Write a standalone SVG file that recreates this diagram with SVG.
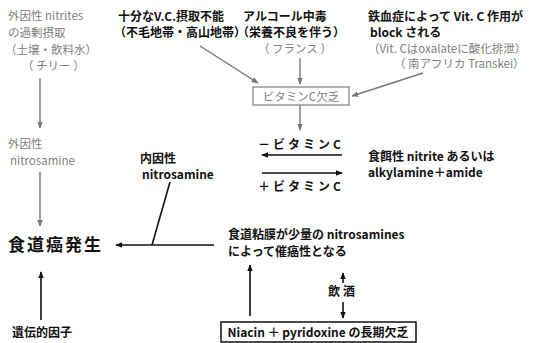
<svg xmlns="http://www.w3.org/2000/svg" width="542" height="343" viewBox="0 0 542 343">
<defs>
<marker id="ab" viewBox="0 0 10 10" refX="9" refY="5" markerWidth="7" markerHeight="7" markerUnits="userSpaceOnUse" orient="auto"><path d="M0,1 L10,5 L0,9 z" fill="#111"/></marker>
<marker id="ag" viewBox="0 0 10 10" refX="9" refY="5" markerWidth="7" markerHeight="7" markerUnits="userSpaceOnUse" orient="auto"><path d="M0,1 L10,5 L0,9 z" fill="#777"/></marker>
</defs>
<style>
text{font-family:"Noto Sans CJK JP","Noto Sans",sans-serif;font-size:12px;}
.b{fill:#111;font-weight:bold;}
.g{fill:#808080;font-size:11.5px;}
.big{font-size:17px;font-weight:bold;fill:#111;letter-spacing:2px;}
.lb{stroke:#111;stroke-width:1.6;fill:none;}
.lg{stroke:#777;stroke-width:1.4;fill:none;}
</style>
<rect width="542" height="343" fill="#fff"/>
<g id="n-exo-nitrites">
<text class="g" x="8" y="20">外因性 nitrites</text>
<text class="g" x="8" y="37">の過剰摂取</text>
<text class="g" x="5" y="54">（土壌・飲料水）</text>
<text class="g" x="22" y="70">（ チリー ）</text>
</g>
<g id="n-exo-nitrosamine">
<text class="g" x="8" y="148">外因性</text>
<text class="g" x="10" y="165">nitrosamine</text>
</g>
<g id="n-cancer"><text class="big" x="8" y="251">食道癌発生</text></g>
<g id="n-genetic"><text class="b" x="12" y="337">遺伝的因子</text></g>
<g id="n-vc-intake">
<text class="b" x="118" y="21">十分なV.C.摂取不能</text>
<text class="b" x="114" y="37">（不毛地帯・高山地帯）</text>
</g>
<g id="n-alcoholism">
<text class="b" x="243" y="21">アルコール中毒</text>
<text class="b" x="237" y="37">（栄養不良を伴う）</text>
<text class="g" x="258" y="53">（ フランス ）</text>
</g>
<g id="n-iron">
<text class="b" x="368" y="21">鉄血症によって Vit. C 作用が</text>
<text class="b" x="370" y="37">block される</text>
<text class="g" x="368" y="53">（Vit. Cはoxalateに酸化排泄）</text>
<text class="g" x="394" y="68">（ 南アフリカ Transkei）</text>
</g>
<g id="n-vc-deficiency">
<rect x="253" y="87" width="96" height="18" fill="#fff" stroke="#888" stroke-width="1.3"/>
<text class="g" x="301" y="101" text-anchor="middle" font-size="12">ビタミンC欠乏</text>
</g>
<g id="n-minus-vc"><text class="b" x="301" y="149" text-anchor="middle" letter-spacing="3">－ビタミンC</text></g>
<g id="n-plus-vc"><text class="b" x="301" y="191" text-anchor="middle" letter-spacing="3">＋ビタミンC</text></g>
<g id="n-dietary">
<text class="b" x="368" y="161">食餌性 nitrite あるいは</text>
<text class="b" x="368" y="177">alkylamine＋amide</text>
</g>
<g id="n-endo">
<text class="b" x="140" y="163">内因性</text>
<text class="b" x="142" y="179">nitrosamine</text>
</g>
<g id="n-mucosa">
<text class="b" x="228" y="239">食道粘膜が少量の nitrosamines</text>
<text class="b" x="228" y="256">によって催癌性となる</text>
</g>
<g id="n-drinking"><text class="b" x="343" y="296" text-anchor="middle" letter-spacing="3">飲酒</text></g>
<g id="n-niacin">
<rect x="221" y="322" width="195" height="20" fill="#fff" stroke="#111" stroke-width="1.5"/>
<text class="b" x="318" y="337" text-anchor="middle">Niacin ＋ pyridoxine の長期欠乏</text>
</g>
<g id="connectors">
<line class="lg" x1="40" y1="78" x2="40" y2="128" marker-end="url(#ag)"/>
<line class="lg" x1="40" y1="172" x2="40" y2="226" marker-end="url(#ag)"/>
<line class="lb" x1="41" y1="320" x2="41" y2="272" marker-end="url(#ab)"/>
<line class="lg" x1="200" y1="46" x2="258" y2="83" marker-end="url(#ag)"/>
<line class="lg" x1="300" y1="58" x2="300" y2="84" marker-end="url(#ag)"/>
<line class="lg" x1="423" y1="73" x2="352" y2="96" marker-end="url(#ag)"/>
<line class="lg" x1="300" y1="105" x2="300" y2="130" marker-end="url(#ag)"/>
<line class="lb" x1="342" y1="155" x2="262" y2="155" stroke-width="2" marker-end="url(#ab)"/>
<line class="lb" x1="262" y1="173" x2="342" y2="173" stroke-width="1.2" marker-end="url(#ab)"/>
<line class="lb" x1="214" y1="245" x2="116" y2="245" marker-end="url(#ab)"/>
<line class="lb" x1="170" y1="182" x2="152" y2="245"/>
<line class="lb" x1="250" y1="316" x2="250" y2="265" marker-end="url(#ab)"/>
<line class="lb" x1="343" y1="283" x2="343" y2="273" marker-end="url(#ab)"/>
<line class="lb" x1="343" y1="302" x2="343" y2="318" marker-end="url(#ab)"/>
</g>
</svg>
